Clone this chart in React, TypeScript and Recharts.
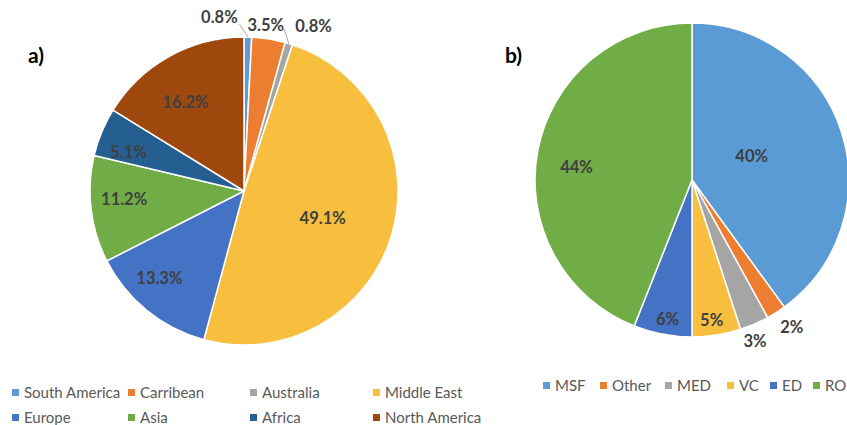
import React from 'react'
import { PieChart, Pie, Cell, Legend } from 'recharts'

const REGIONS = ['South America', 'Carribean', 'Australia', 'Middle East', 'Europe', 'Asia', 'Africa', 'North America']
const REGION_SHARE = [0.8, 3.5, 0.8, 49.1, 13.3, 11.2, 5.1, 16.2]
const REGION_COLORS = ['#5B9BD5', '#ED7D31', '#A5A5A5', '#F8BF3E', '#4472C4', '#71AD47', '#255E91', '#9E480E']

const TYPES = ['MSF', 'Other', 'MED', 'VC', 'ED', 'RO']
const TYPE_SHARE = [40, 2, 3, 5, 6, 44]
const TYPE_COLORS = ['#5B9BD5', '#ED7D31', '#A5A5A5', '#F8BF3E', '#4472C4', '#71AD47']

const regionData = REGIONS.map((name, i) => ({ name, value: REGION_SHARE[i] }))
const typeData = TYPES.map((name, i) => ({ name, value: TYPE_SHARE[i] }))

const FONT = 'Lato, "Open Sans", sans-serif'
const RAD = Math.PI / 180

// label placement tweaks: [radius factor, clockwise angle shift, leader line]
const LEFT_LABELS: [number, number, boolean][] = [
  [1.14, -9.5, true],
  [1.09, -1.7, false],
  [1.16, 6, true],
  [0.54, 2.2, false],
  [0.79, 5, false],
  [0.78, 3, false],
  [0.79, -4, false],
  [0.69, -4.3, false],
]
const RIGHT_LABELS: [number, number, boolean][] = [
  [0.41, -4, false],
  [1.13, -1.8, false],
  [1.1, 2, false],
  [0.9, 1, false],
  [0.9, -0.8, false],
  [0.74, -4.3, false],
]

const makeLabel = (tweaks: [number, number, boolean][], fmt: (v: number) => string) => (props: any) => {
  const { cx, cy, midAngle, outerRadius, index, value } = props
  const [f, shift, line] = tweaks[index]
  const a = midAngle - shift
  const r = outerRadius * f
  const x = cx + r * Math.cos(-a * RAD)
  const y = cy + r * Math.sin(-a * RAD)
  const lx1 = cx + outerRadius * Math.cos(-midAngle * RAD)
  const ly1 = cy + outerRadius * Math.sin(-midAngle * RAD)
  const lx2 = cx + (outerRadius + 13) * Math.cos(-(midAngle + 3) * RAD)
  const ly2 = cy + (outerRadius + 13) * Math.sin(-(midAngle + 3) * RAD)
  return (
    <g>
      {line && <line x1={lx1} y1={ly1} x2={lx2} y2={ly2} stroke="#A6A6A6" strokeWidth={1} />}
      <text
        x={x}
        y={y}
        textAnchor="middle"
        dominantBaseline="central"
        fill="#404040"
        fontSize={16.5}
        fontWeight={700}
        fontFamily={FONT}
      >
        {fmt(value)}
      </text>
    </g>
  )
}

const itemStyle: React.CSSProperties = {
  position: 'absolute',
  display: 'flex',
  alignItems: 'center',
  fontFamily: FONT,
  fontSize: 15,
  color: '#595959',
  whiteSpace: 'nowrap',
  lineHeight: '18px',
}

const LEFT_COLS = [12, 128, 250, 373]

const LeftLegend = ({ payload }: any) => (
  <div style={{ position: 'relative', width: 500, height: 50 }}>
    {(payload || []).map((p: any, i: number) => (
      <div key={i} style={{ ...itemStyle, left: LEFT_COLS[i % 4], top: Math.floor(i / 4) * 25 }}>
        <span style={{ width: 7, height: 7, background: p.color, marginRight: 5, display: 'inline-block' }} />
        {p.value}
      </div>
    ))}
  </div>
)

const RIGHT_COLS = [43, 100, 165, 227, 270, 313]

const RightLegend = ({ payload }: any) => (
  <div style={{ position: 'relative', width: 347, height: 20 }}>
    {(payload || []).map((p: any, i: number) => (
      <div key={i} style={{ ...itemStyle, left: RIGHT_COLS[i], top: 0 }}>
        <span style={{ width: 7, height: 7, background: p.color, marginRight: 5, display: 'inline-block' }} />
        {p.value}
      </div>
    ))}
  </div>
)

export default function App() {
  return (
    <div style={{ position: 'absolute', left: 0, top: 0, width: 847, height: 425, background: '#fff', overflow: 'hidden' }}>
      <div style={{ position: 'absolute', left: 28, top: 42, fontFamily: FONT, fontWeight: 700, fontSize: 21, color: '#000' }}>a)</div>
      <div style={{ position: 'absolute', left: 505, top: 42, fontFamily: FONT, fontWeight: 700, fontSize: 21, color: '#000' }}>b)</div>

      <div style={{ position: 'absolute', left: 0, top: 0 }}>
        <PieChart width={500} height={425} margin={{ top: 0, right: 0, bottom: 0, left: 0 }}>
          <Pie
            data={regionData}
            dataKey="value"
            nameKey="name"
            cx={244}
            cy={191}
            outerRadius={154}
            startAngle={90}
            endAngle={-270}
            stroke="#fff"
            strokeWidth={1.5}
            labelLine={false}
            label={makeLabel(LEFT_LABELS, (v) => `${v.toFixed(1)}%`)}
            isAnimationActive={false}
          >
            {regionData.map((d, i) => (
              <Cell key={d.name} fill={REGION_COLORS[i]} />
            ))}
          </Pie>
          <Legend
            itemSorter={null as any}
            content={<LeftLegend />}
            wrapperStyle={{ position: 'absolute', left: 0, top: 383, bottom: 'auto', width: 500 }}
          />
        </PieChart>
      </div>

      <div style={{ position: 'absolute', left: 500, top: 0 }}>
        <PieChart width={347} height={425} margin={{ top: 0, right: 0, bottom: 0, left: 0 }}>
          <Pie
            data={typeData}
            dataKey="value"
            nameKey="name"
            cx={192}
            cy={180}
            outerRadius={157}
            startAngle={90}
            endAngle={-270}
            stroke="#fff"
            strokeWidth={1.5}
            labelLine={false}
            label={makeLabel(RIGHT_LABELS, (v) => `${v}%`)}
            isAnimationActive={false}
          >
            {typeData.map((d, i) => (
              <Cell key={d.name} fill={TYPE_COLORS[i]} />
            ))}
          </Pie>
          <Legend
            itemSorter={null as any}
            content={<RightLegend />}
            wrapperStyle={{ position: 'absolute', left: 0, top: 376, bottom: 'auto', width: 347 }}
          />
        </PieChart>
      </div>
    </div>
  )
}
